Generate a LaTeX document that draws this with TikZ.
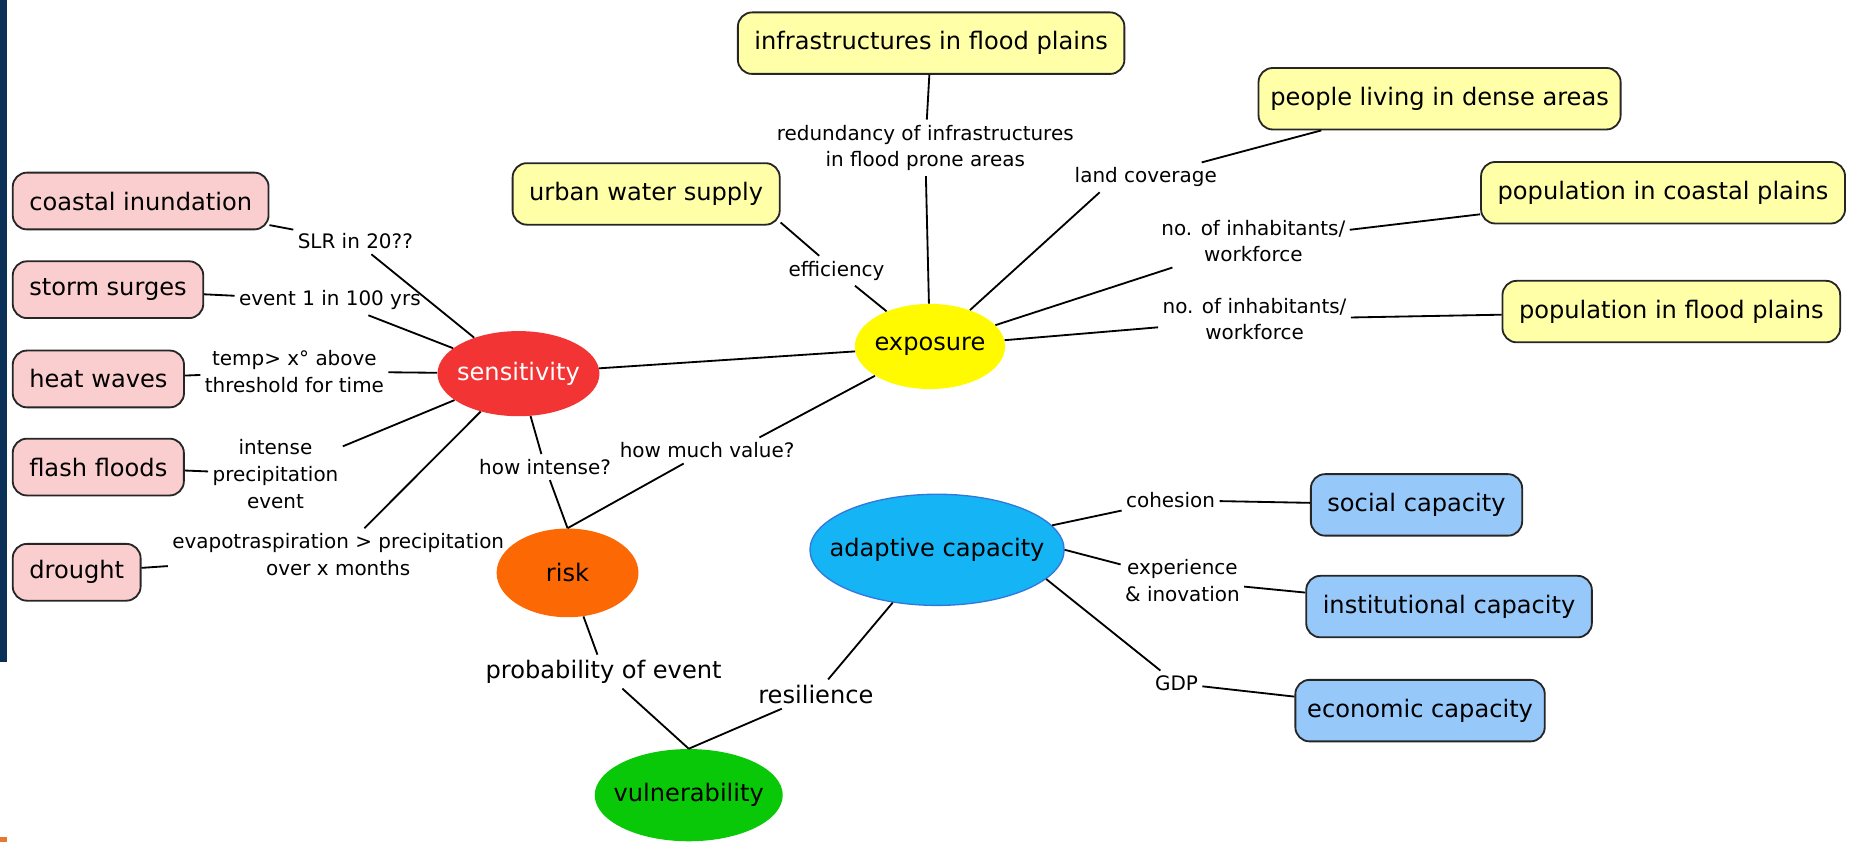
\documentclass[tikz,border=0pt]{standalone}
\usepackage{fontspec}
\setmainfont{DejaVu Sans}
\usetikzlibrary{shapes.geometric}

\definecolor{hazardpink}{RGB}{250,206,206}
\definecolor{expoyellow}{RGB}{255,255,168}
\definecolor{capblue}{RGB}{150,200,250}
\definecolor{sensred}{RGB}{242,52,52}
\definecolor{expofill}{RGB}{255,250,0}
\definecolor{riskorange}{RGB}{252,104,4}
\definecolor{vulngreen}{RGB}{8,200,8}
\definecolor{adaptblue}{RGB}{20,180,245}
\definecolor{adaptedge}{RGB}{50,120,220}
\definecolor{navyband}{RGB}{10,48,88}
\definecolor{cornerorange}{RGB}{230,120,50}

\newcommand{\mapfont}{\fontsize{14.5}{17}\selectfont}
\newcommand{\linkfont}{\fontsize{12}{16}\selectfont}

\begin{document}
\begin{tikzpicture}
    [x=0.025cm, y=-0.025cm, font=\mapfont,
     box/.style={draw=black!85, line width=1.1pt, rounded corners=0.3cm,
       inner xsep=0.35cm, minimum height=1.3cm},
     hazard/.style={box, fill=hazardpink, minimum height=1.2cm},
     expobox/.style={box, fill=expoyellow},
     capbox/.style={box, fill=capblue},
     concept/.style={ellipse, inner sep=0pt},
     link/.style={font=\linkfont, align=center, inner xsep=2.5pt, inner ysep=3pt},
     biglink/.style={link, font=\mapfont},
     conn/.style={line width=1.1pt}]
    \def \unit {0.025cm} % one pixel of the 1568 wide layout

    \fill[navyband] (0,0) rectangle (6,560);
    \fill[cornerorange] (0,708) rectangle (6,712);
    \useasboundingbox (0,0) rectangle (1568,712);

    \node[concept, fill=sensred, minimum width=137*\unit, minimum height=72*\unit,
      label={[text=white]center:sensitivity}] (sens) at (438.5,316) {};
    \node[concept, fill=expofill, minimum width=127*\unit, minimum height=72*\unit,
      label={center:exposure}] (expo) at (786.5,293) {};
    \node[concept, fill=riskorange, minimum width=120*\unit, minimum height=75*\unit,
      label={center:risk}] (risk) at (480,484.5) {};
    \node[concept, fill=vulngreen, minimum width=159*\unit, minimum height=78*\unit,
      label={center:vulnerability}] (vuln) at (582.5,672.5) {};
    \node[concept, fill=adaptblue, draw=adaptedge, line width=0.8pt,
      minimum width=215*\unit, minimum height=94*\unit,
      label={center:adaptive capacity}] (adapt) at (792.5,465) {};

    \foreach \n/\y/\t in {coast/170/coastal inundation, storm/245/storm surges,
      heat/320.5/heat waves, flash/395/flash floods, drought/484/drought}
      \node[hazard, anchor=west] (\n) at (10,\y) {\t};

    \node[expobox] (infra) at (787.5,36.5) {infrastructures in flood plains};
    \node[expobox] (urban) at (546.5,164) {urban water supply};
    \node[expobox, inner xsep=0.25cm] (dense) at (1217.5,83.5) {people living in dense areas};
    \node[expobox] (cpop) at (1406.5,163) {population in coastal plains};
    \node[expobox] (fpop) at (1413.5,263.5) {population in flood plains};

    \node[capbox] (social) at (1198,427) {social capacity};
    \node[capbox] (inst) at (1225.5,513) {institutional capacity};
    \node[capbox, inner xsep=0.25cm] (econ) at (1201,601) {economic capacity};

    \node[link] (slr) at (300.5,204) {SLR in 20??};
    \node[link] (event) at (279,254) {event 1 in 100 yrs};
    \node[link] (temp) at (249,314) {temp> x° above\\threshold for time};
    \node[link] (intense) at (233,401) {intense\\precipitation\\event};
    \node[link] (evap) at (286,469) {evapotraspiration > precipitation\\over x months};
    \node[link] (howint) at (461,395) {how intense?};
    \node[link] (muchval) at (598,381) {how much value?};
    \node[biglink] (prob) at (510.5,568) {probability of event};
    \node[biglink] (resil) at (690,587) {resilience};
    \node[link] (effic) at (707.5,229) {efficiency};
    \node[link] (redund) at (782.5,125) {redundancy of infrastructures\\in flood prone areas};
    \node[link] (landcov) at (969,150) {land coverage};
    \node[link] (inhab1) at (1060,204) {no. of inhabitants/\\workforce};
    \node[link] (inhab2) at (1061,270) {no. of inhabitants/\\workforce};
    \node[link] (cohesion) at (990,423) {cohesion};
    \node[link] (exper) at (1000,491) {experience\\\& inovation};
    \node[link] (gdp) at (995,578) {GDP};

    \foreach \a/\b in {coast/slr, slr/sens, storm/event, event/sens, heat/temp, temp/sens,
      flash/intense, intense/sens, drought/evap, evap/sens, sens/howint, howint/risk.north,
      sens/expo, expo/muchval.14, muchval/risk.north, risk/prob, prob/vuln.north,
      vuln.north/resil, resil/adapt, adapt/cohesion, cohesion/social, adapt.east/exper,
      exper/inst, adapt.-15/gdp, gdp/econ, expo/effic, effic/urban.-12, expo/redund,
      redund/infra, expo/landcov.198, landcov/dense, expo/inhab1, inhab1/cpop,
      expo/inhab2, inhab2/fpop}
      \draw[conn] (\a) -- (\b);
\end{tikzpicture}
\end{document}
